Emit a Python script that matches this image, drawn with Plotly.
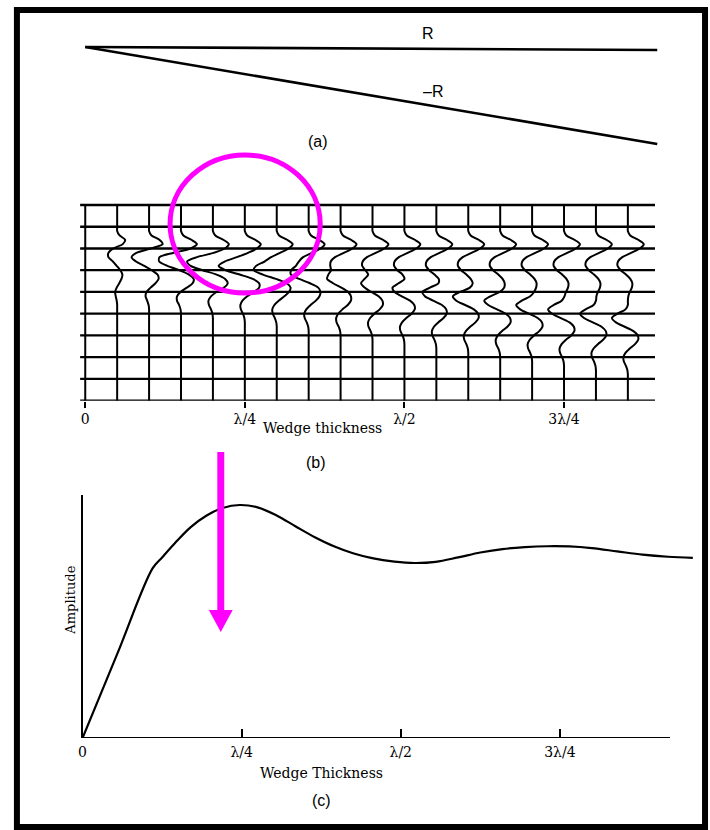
import numpy as np
import plotly.graph_objects as go

W, H = 710, 830

# ---------------- data ----------------
# (a) wedge model: horizontal extent in wavelengths, two-way times (ms) of top (R) and base (-R)
wedge_x = [0.0, 0.896]
top_R_time = [0.0, 1.4]
base_R_time = [0.0, 44.6]

# (b) synthetic wedge section
trace_thickness = [0.00, 0.05, 0.10, 0.15, 0.20, 0.25, 0.30, 0.35, 0.40,
                   0.45, 0.50, 0.55, 0.60, 0.65, 0.70, 0.75, 0.80, 0.85]  # in wavelengths
R_top, R_base = 1.0, -1.0
top_time_ms = 18
sample_dt_ms = 2
sample_times = list(range(0, 92, 2))  # 0 .. 90 ms
wavelet_amp = [0.0, 0.15, 0.65, 1.0, 0.75, 0.2, -0.35, -0.62, -0.65, -0.45,
               -0.12, 0.15, 0.28, 0.25, 0.12, 0.03, 0.0]  # samples at -6..26 ms
wavelet_zero_index = 3
timing_lines_ms = [0, 10, 20, 30, 40, 50, 60, 70, 80, 90]
timing_line_extent = [-0.008, 0.8925]
twt_per_wavelength_ms = 40  # two-way time across one wavelength of thickness

tick_vals = [0, 0.25, 0.5, 0.75]
tick_text = ["0", "\u03bb/4", "\u03bb/2", "3\u03bb/4"]

# (c) tuning curve
tune_thickness = [0.000, 0.055, 0.110, 0.125, 0.145, 0.170, 0.195, 0.220, 0.247,
                  0.275, 0.305, 0.335, 0.365, 0.395, 0.425, 0.455, 0.490, 0.522,
                  0.555, 0.590, 0.625, 0.660, 0.695, 0.730, 0.765, 0.800, 0.840,
                  0.880, 0.920, 0.959]
tune_amplitude = [0.000, 0.364, 0.728, 0.775, 0.836, 0.905, 0.955, 0.987, 1.000,
                  0.990, 0.955, 0.908, 0.862, 0.823, 0.793, 0.772, 0.757, 0.751,
                  0.756, 0.775, 0.796, 0.811, 0.819, 0.823, 0.822, 0.815, 0.801,
                  0.787, 0.778, 0.773]
c_axis_end = 0.923

# ---------------- helpers ----------------
def xdom(l, r):
    return [l / W, r / W]

def ydom(top, bot):
    return [1 - bot / H, 1 - top / H]

SERIF = "DejaVu Serif"
SANS = "Liberation Sans"
MAG = "#ff00ff"

fig = go.Figure()

# ---- panel (a)
for yy in (top_R_time, base_R_time):
    fig.add_trace(go.Scatter(x=wedge_x, y=yy, mode="lines", xaxis="x", yaxis="y",
                             line=dict(color="black", width=2.6), hoverinfo="skip"))

# ---- panel (b): timing lines
gx, gy = [], []
for t in timing_lines_ms:
    gx += [timing_line_extent[0], timing_line_extent[1], None]
    gy += [t, t, None]
fig.add_trace(go.Scatter(x=gx, y=gy, mode="lines", xaxis="x2", yaxis="y2",
                         line=dict(color="black", width=2.3), hoverinfo="skip"))

# ---- panel (b): wiggle traces (reflectivity convolved with wavelet)
gain = 16.0 / 642.0
n = len(sample_times)
w = np.array(wavelet_amp)
for th in trace_thickness:
    refl = np.zeros(n)
    i_top = top_time_ms // sample_dt_ms
    i_base = int(round((top_time_ms + th * twt_per_wavelength_ms) / sample_dt_ms))
    refl[i_top] += R_top
    if i_base < n:
        refl[i_base] += R_base
    conv = np.convolve(refl, w)
    trace = conv[wavelet_zero_index:wavelet_zero_index + n]
    fig.add_trace(go.Scatter(x=th + gain * trace, y=sample_times, mode="lines",
                             xaxis="x2", yaxis="y2", line=dict(color="black", width=2.0,
                                                               shape="spline", smoothing=0.8),
                             hoverinfo="skip"))

# ---- panel (c)
fig.add_trace(go.Scatter(x=tune_thickness, y=tune_amplitude, mode="lines", xaxis="x3", yaxis="y3",
                         line=dict(color="black", width=2.2, shape="spline", smoothing=1.0),
                         hoverinfo="skip"))

# ---------------- axes ----------------
px_per_lambda_b = 642.0
x0_b = 81.7
xb_dom = (60, 700)
xb_range = [(xb_dom[0] - x0_b) / px_per_lambda_b, (xb_dom[1] - x0_b) / px_per_lambda_b]

hidden = dict(visible=False)

# (a)
ya_scale = 2.174
ya_top_px, ya_bot_px, ya_p0 = 15, 170, 47
fig.update_layout(
    xaxis=dict(domain=xdom(*xb_dom), range=xb_range, **hidden),
    yaxis=dict(domain=ydom(ya_top_px, ya_bot_px),
               range=[(ya_bot_px - ya_p0) / ya_scale, (ya_top_px - ya_p0) / ya_scale], **hidden),
)

# (b)
yb_scale = 2.174
yb_p0 = 205
yb_top_px, yb_bot_px = 180, 205 + 90 * yb_scale
fig.update_layout(
    xaxis2=dict(domain=xdom(*xb_dom), range=xb_range, anchor="y2",
                showgrid=False, zeroline=False, showline=False,
                tickmode="array", tickvals=tick_vals, ticktext=tick_text,
                ticks="outside", ticklen=6, tickwidth=1.6, tickcolor="black",
                tickfont=dict(family=SERIF, size=14, color="black")),
    yaxis2=dict(domain=ydom(yb_top_px, yb_bot_px),
                range=[(yb_bot_px - yb_p0) / yb_scale, (yb_top_px - yb_p0) / yb_scale],
                **hidden),
)

# (c)
xc_p0, xc_scale = 79, 640.0
xc_dom = (79, 700)
yc_top, yc_bot = 495, 738
yc_scale = 233.0
fig.update_layout(
    xaxis3=dict(domain=xdom(*xc_dom), range=[0, (xc_dom[1] - xc_p0) / xc_scale], anchor="y3",
                showgrid=False, zeroline=False, showline=False,
                tickmode="array", tickvals=tick_vals, ticktext=tick_text,
                ticks="inside", ticklen=9, tickwidth=1.6, tickcolor="black",
                ticklabelstandoff=4,
                tickfont=dict(family=SERIF, size=14, color="black")),
    yaxis3=dict(domain=ydom(yc_top, yc_bot), range=[0, (yc_bot - yc_top) / yc_scale], anchor="x3",
                showgrid=False, zeroline=False, showline=True, linecolor="black", linewidth=2,
                showticklabels=False, ticks=""),
)

# ---------------- annotations ----------------
def ann(text, xpx, ypx, size, family, angle=0):
    return dict(x=xpx / W, y=1 - ypx / H, xref="paper", yref="paper", text=text,
                showarrow=False, xanchor="center", yanchor="middle", textangle=angle,
                font=dict(family=family, size=size, color="black"))

annotations = [
    ann("R", 426, 33, 16, SANS),
    ann("\u2013R", 431, 92, 16, SANS),
    ann("(a)", 316, 141, 16, SANS),
    ann("Wedge thickness", 320, 428, 14, SERIF),
    ann("(b)", 314, 462, 16, SANS),
    ann("Wedge Thickness", 319, 773, 14, SERIF),
    ann("(c)", 319, 800, 16, SANS),
    ann("Amplitude", 66, 600, 13, SERIF, angle=-90),
]

# ---------------- shapes ----------------
shapes = [
    # outer frame
    dict(type="rect", xref="paper", yref="paper", x0=13 / W, x1=705 / W,
         y0=1 - 827 / H, y1=1 - 10 / H, line=dict(color="black", width=6)),
    # x-axis line of (c)
    dict(type="line", xref="x3", yref="y3", x0=0, x1=c_axis_end, y0=0, y1=0,
         line=dict(color="black", width=2)),
    # magenta circle
    dict(type="circle", xref="paper", yref="paper",
         x0=(242.5 - 75.5) / W, x1=(242.5 + 75.5) / W,
         y0=1 - (224 + 69) / H, y1=1 - (224 - 69) / H,
         line=dict(color=MAG, width=5)),
    # magenta arrow shaft
    dict(type="rect", xref="paper", yref="paper", x0=214.5 / W, x1=221.5 / W,
         y0=1 - 612 / H, y1=1 - 452 / H, line=dict(width=0), fillcolor=MAG),
    # magenta arrow head
    dict(type="path", xref="paper", yref="paper",
         path="M {} {} L {} {} L {} {} Z".format(206 / W, 1 - 610 / H, 230 / W, 1 - 610 / H,
                                                  218 / W, 1 - 632 / H),
         line=dict(width=0), fillcolor=MAG),
]

fig.update_layout(width=W, height=H, margin=dict(l=0, r=0, t=0, b=0),
                  paper_bgcolor="white", plot_bgcolor="rgba(0,0,0,0)",
                  showlegend=False, annotations=annotations, shapes=shapes)

fig.write_html("out.html")
